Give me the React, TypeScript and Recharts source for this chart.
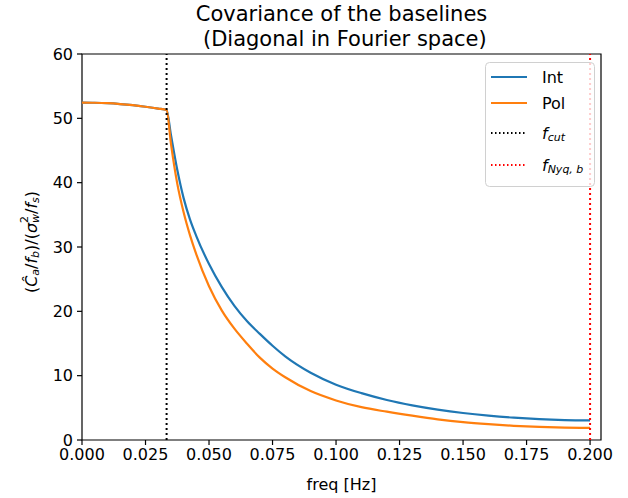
import React from 'react';
import {
  LineChart, Line, XAxis, YAxis, ReferenceLine, ReferenceArea, Legend, Label,
} from 'recharts';

// frequency grid [Hz] and normalised baseline covariance for each channel
const FREQ = [0, 0.005, 0.01, 0.015, 0.02, 0.025, 0.03, 0.0333, 0.035, 0.0375, 0.04, 0.0425, 0.045, 0.05, 0.055, 0.06, 0.065, 0.07, 0.075, 0.08, 0.09, 0.1, 0.11, 0.12, 0.13, 0.14, 0.15, 0.16, 0.17, 0.18, 0.19, 0.2];
const INT_VALS = [52.45, 52.42, 52.35, 52.22, 52.04, 51.8, 51.52, 51.3, 47.45, 42.0, 37.6, 34.3, 31.7, 27.35, 23.8, 20.85, 18.45, 16.5, 14.65, 13.0, 10.45, 8.6, 7.28, 6.22, 5.39, 4.73, 4.2, 3.79, 3.47, 3.24, 3.1, 3.04];
const POL_VALS = [52.45, 52.42, 52.35, 52.22, 52.04, 51.8, 51.52, 51.3, 46.1, 39.85, 35.4, 31.85, 28.85, 23.9, 20.15, 17.3, 14.95, 12.8, 11.1, 9.75, 7.6, 6.15, 5.1, 4.4, 3.78, 3.22, 2.78, 2.46, 2.21, 2.03, 1.92, 1.87];

const F_CUT = 0.0333;
const F_NYQ = 0.2;
const X_MAX = 0.2043;
const X_TICKS = [0, 0.025, 0.05, 0.075, 0.1, 0.125, 0.15, 0.175, 0.2];
const Y_TICKS = [0, 10, 20, 30, 40, 50, 60];

const FONT = '"DejaVu Sans", sans-serif';
const BLUE = '#1f77b4';
const ORANGE = '#ff7f0e';

const rows = FREQ.map((f, i) => ({ f, int: INT_VALS[i], pol: POL_VALS[i] }));

function YAxisTitle({ viewBox }: any) {
  const cx = 31;
  const cy = viewBox ? viewBox.y + viewBox.height / 2 - 5 : 242;
  return (
    <text
      x={cx}
      y={cy}
      transform={`rotate(-90, ${cx}, ${cy})`}
      textAnchor="middle"
      dominantBaseline="central"
      fontFamily={FONT}
      fontSize={16}
      fill="#000"
    >
      <tspan>(</tspan>
      <tspan fontStyle="italic">Ĉ</tspan>
      <tspan fontStyle="italic" fontSize={11} dy={4}>a</tspan>
      <tspan dy={-4}>/</tspan>
      <tspan fontStyle="italic">f</tspan>
      <tspan fontStyle="italic" fontSize={11} dy={4}>b</tspan>
      <tspan dy={-4}>)/(</tspan>
      <tspan fontStyle="italic">σ</tspan>
      <tspan fontSize={11} dy={-7}>2</tspan>
      <tspan fontStyle="italic" fontSize={11} dx={-7} dy={11}>w</tspan>
      <tspan dy={-4}>/</tspan>
      <tspan fontStyle="italic">f</tspan>
      <tspan fontStyle="italic" fontSize={11} dy={4}>s</tspan>
      <tspan dy={-4}>)</tspan>
    </text>
  );
}

function LegendBox() {
  const items = [
    { key: 'int', stroke: BLUE, dash: undefined, label: <tspan>Int</tspan> },
    { key: 'pol', stroke: ORANGE, dash: undefined, label: <tspan>Pol</tspan> },
    {
      key: 'cut', stroke: '#000', dash: '1.5 2.5',
      label: (<><tspan fontStyle="italic">f</tspan><tspan fontStyle="italic" fontSize={11} dy={4}>cut</tspan></>),
    },
    {
      key: 'nyq', stroke: 'red', dash: '1.5 2.5',
      label: (<><tspan fontStyle="italic">f</tspan><tspan fontStyle="italic" fontSize={11} dy={4}>Nyq, b</tspan></>),
    },
  ];
  const rowY = [15, 41, 71, 103];
  return (
    <svg width={110} height={125} style={{ display: 'block' }}>
      <rect x={0.5} y={0.5} width={109} height={124} rx={4} fill="rgba(255,255,255,0.8)" stroke="#d0d0d0" />
      {items.map((it, i) => (
        <g key={it.key}>
          <line x1={6} x2={42} y1={rowY[i]} y2={rowY[i]} stroke={it.stroke} strokeWidth={2} strokeDasharray={it.dash} />
          <text x={57} y={rowY[i]} dominantBaseline="central" fontFamily={FONT} fontSize={16} fill="#000">
            {it.label}
          </text>
        </g>
      ))}
    </svg>
  );
}

export default function App() {
  return (
    <div style={{ position: 'absolute', left: 0, top: 0, width: 628, height: 498, background: '#fff' }}>
      <div
        style={{
          position: 'absolute', left: 82, width: 519, top: 2, textAlign: 'center',
          fontFamily: FONT, fontSize: 21, lineHeight: '25px', color: '#000', whiteSpace: 'pre',
        }}
      >
        {'Covariance of the baselines\n (Diagonal in Fourier space)'}
      </div>
      <LineChart width={628} height={498} data={rows} margin={{ top: 54, right: 27, left: 0, bottom: 0 }}>
        <XAxis
          dataKey="f"
          type="number"
          domain={[0, X_MAX]}
          ticks={X_TICKS}
          tickFormatter={(v: number) => v.toFixed(3)}
          axisLine={false}
          tickLine={{ stroke: '#000', strokeWidth: 1.2 }}
          tickSize={5}
          tickMargin={4}
          tick={{ fill: '#000', fontSize: 16, fontFamily: FONT }}
          height={58}
          allowDataOverflow
        >
          <Label value="freq [Hz]" position="insideBottom" offset={8} fill="#000" fontSize={16} fontFamily={FONT} />
        </XAxis>
        <YAxis
          type="number"
          domain={[0, 60]}
          ticks={Y_TICKS}
          axisLine={false}
          tickLine={{ stroke: '#000', strokeWidth: 1.2 }}
          tickSize={5}
          tickMargin={4}
          tick={{ fill: '#000', fontSize: 16, fontFamily: FONT }}
          width={82}
          label={{ content: <YAxisTitle /> }}
        />
        <Line type="monotone" dataKey="int" stroke={BLUE} strokeWidth={2.2} dot={false} isAnimationActive={false} />
        <Line type="monotone" dataKey="pol" stroke={ORANGE} strokeWidth={2.2} dot={false} isAnimationActive={false} />
        <ReferenceLine x={F_CUT} stroke="#000" strokeWidth={2} strokeDasharray="2 3" />
        <ReferenceLine x={F_NYQ} stroke="red" strokeWidth={2} strokeDasharray="2 3" />
        <ReferenceArea x1={0} x2={X_MAX} y1={0} y2={60} fill="none" fillOpacity={0} stroke="#000" strokeWidth={1.2} ifOverflow="visible" />
        <Legend
          layout="horizontal"
          verticalAlign="middle"
          content={<LegendBox />}
          wrapperStyle={{ left: 485, top: 62, width: 110, height: 125 }}
        />
      </LineChart>
    </div>
  );
}
